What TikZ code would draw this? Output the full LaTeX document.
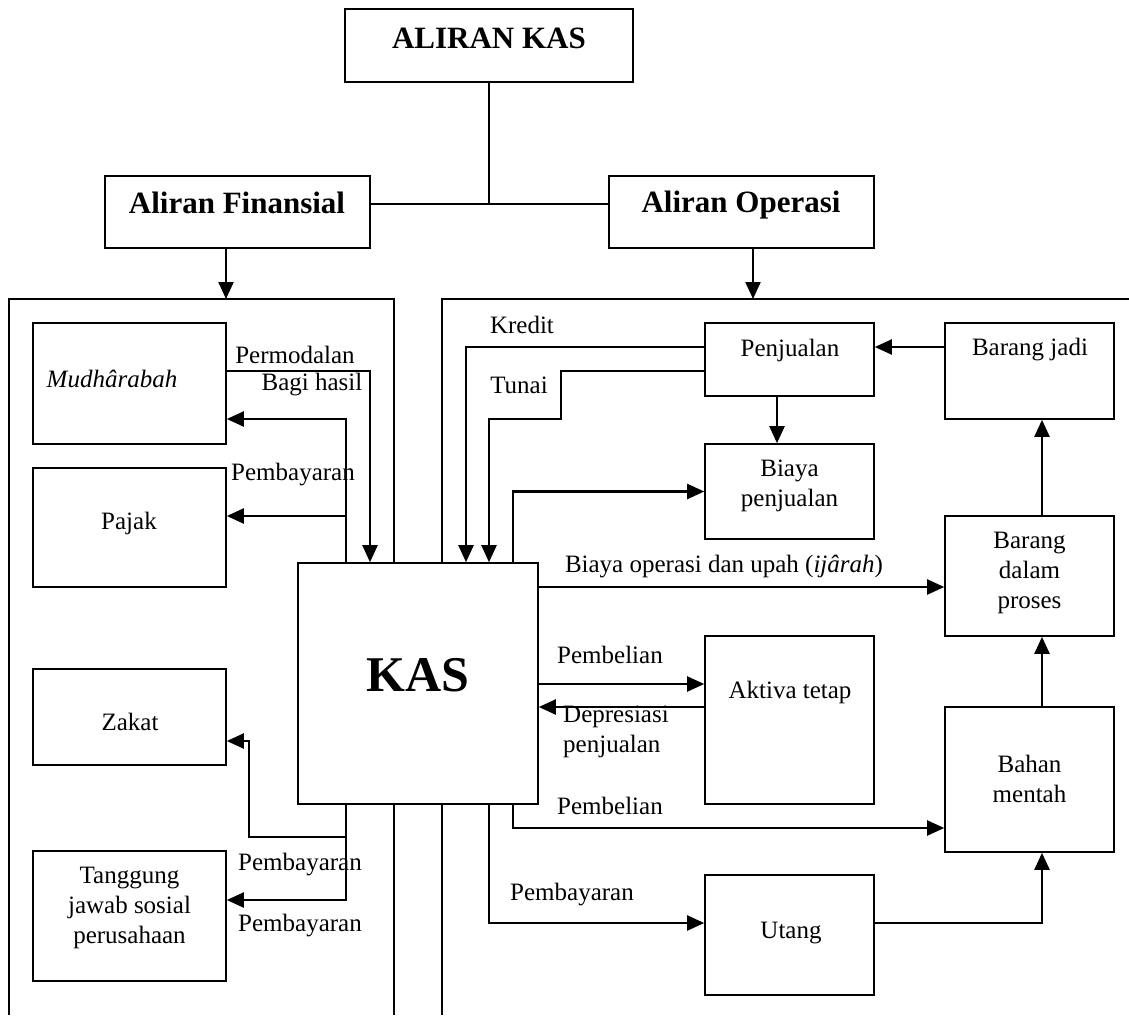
\documentclass[tikz,border=0pt]{standalone}
\usepackage{fontspec}
\setmainfont{Liberation Serif}
\usetikzlibrary{arrows.meta}
\tikzset{
  box/.style={draw, line width=1.6pt, fill=white, inner sep=0pt},
  txt/.style={inner sep=0pt, align=center, font=\fontsize{25}{30}\selectfont},
  ttl/.style={inner sep=0pt, align=center, font=\fontsize{31}{36}\selectfont\bfseries},
  arr/.style={line width=2.2pt, -{Triangle[length=17pt,width=15pt]}},
  ln/.style={line width=1.4pt},
}
\begin{document}
\begin{tikzpicture}[x=1pt,y=-1pt]
\useasboundingbox (0,0) rectangle (1129,1015);
% frames
\draw[ln] (9,1015) -- (9,299) -- (394,299) -- (394,1015);
\draw[ln] (442,1015) -- (442,299) -- (1129,299);
% top boxes
\node[box, minimum width=288pt, minimum height=73pt] (aliran) at (489,45.5) {};
\node[ttl] (aliranT) at (489,38) {ALIRAN KAS};
\node[box, minimum width=265pt, minimum height=72pt] (fin) at (237.5,212) {};
\node[ttl] (finT) at (237,203) {Aliran Finansial};
\node[box, minimum width=265pt, minimum height=72pt] (ops) at (741.5,212) {};
\node[ttl] (opsT) at (741,205) {Aliran Operasi};
\coordinate (hj) at (489,204);
\draw[ln] (aliran.south) -- (hj);
\draw[ln] (fin.east |- hj) -- (ops.west |- hj);
\coordinate (lf) at (226,299);
\coordinate (rf) at (753,299);
\draw[arr] (fin.south -| lf) -- (lf);
\draw[arr] (ops.south -| rf) -- (rf);
% left boxes
\node[box, minimum width=193pt, minimum height=121pt] (mud) at (129.5,383.5) {};
\node[txt, font=\fontsize{25}{30}\selectfont\itshape] (mudT) at (112,379) {Mudhârabah};
\node[box, minimum width=193pt, minimum height=119pt] (pajak) at (129.5,527.5) {};
\node[txt] (pajakT) at (129,523) {Pajak};
\node[box, minimum width=193pt, minimum height=96pt] (zakat) at (129.5,717) {};
\node[txt] (zakatT) at (130,722) {Zakat};
\node[box, minimum width=193pt, minimum height=130pt] (tjs) at (129.5,916) {};
\node[txt] (tjsT) at (129.5,908) {Tanggung\\jawab sosial\\perusahaan};
% KAS
\node[box, minimum width=240pt, minimum height=241pt] (kas) at (418,683.5) {};
\node[inner sep=0pt, font=\fontsize{50}{58}\selectfont\bfseries] (kasT) at (418,675) {KAS};
% right boxes
\node[box, minimum width=169pt, minimum height=73pt] (penj) at (789.5,359.5) {};
\node[txt] (penjT) at (790,350) {Penjualan};
\node[box, minimum width=169pt, minimum height=96pt] (bj) at (1029.5,371) {};
\node[txt] (bjT) at (1030,350) {Barang jadi};
\node[box, minimum width=169pt, minimum height=95pt] (bp) at (789.5,491.5) {};
\node[txt] (bpT) at (789.5,486) {Biaya\\penjualan};
\node[box, minimum width=169pt, minimum height=120pt] (bdp) at (1029.5,576) {};
\node[txt] (bdpT) at (1029.5,573) {Barang\\dalam\\proses};
\node[box, minimum width=169pt, minimum height=168pt] (akt) at (789.5,720) {};
\node[txt] (aktT) at (790,692) {Aktiva tetap};
\node[box, minimum width=169pt, minimum height=145pt] (bm) at (1029.5,779.5) {};
\node[txt] (bmT) at (1029.5,779) {Bahan\\mentah};
\node[box, minimum width=169pt, minimum height=120pt] (utang) at (789.5,935) {};
\node[txt] (utangT) at (791,933) {Utang};
% financial connectors
\draw[arr] (mud.east |- 0,371) -| (kas.north -| 370,0);
\draw[arr] (kas.north -| 346,0) |- (mud.east |- 0,419);
\coordinate (tr1) at (346,516);
\draw[arr] (tr1) -- (pajak.east |- tr1);
\draw[arr] (kas.south -| 346,0) |- (249,837) |- (zakat.east |- 0,741);
\draw[arr] (kas.south -| 346,0) |- (tjs.east |- 0,900);
% operating connectors
\draw[arr] (penj.west |- 0,347) -| (kas.north -| 466,0);
\draw[arr] (penj.west |- 0,371) -| (561,419) -| (kas.north -| 489,0);
\draw[arr] (kas.north -| 513,0) |- (bp.west);
\draw[arr] (penj.south -| 777,0) -- (bp.north -| 777,0);
\draw[arr] (bj.west |- 0,347) -- (penj.east |- 0,347);
\draw[arr] (bdp.north -| 1042,0) -- (bj.south -| 1042,0);
\draw[arr] (bm.north -| 1042,0) -- (bdp.south -| 1042,0);
\draw[arr] (kas.east |- 0,587) -- (bdp.west |- 0,587);
\draw[arr] (kas.east |- 0,684) -- (akt.west |- 0,684);
\draw[arr] (akt.west |- 0,707) -- (kas.east |- 0,707);
\draw[arr] (kas.south -| 513,0) |- (bm.west |- 0,828);
\draw[arr] (kas.south -| 489,0) |- (utang.west |- 0,923);
\draw[arr] (utang.east |- 0,923) -| (bm.south -| 1042,0);
% labels
\node[txt] (l1) at (295,355) {Permodalan};
\node[txt] (l2) at (312,385) {Bagi hasil};
\node[txt] (l3) at (293,475) {Pembayaran};
\node[txt] (l4) at (300,865) {Pembayaran};
\node[txt] (l5) at (300,926) {Pembayaran};
\node[txt] (l6) at (522,325) {Kredit};
\node[txt] (l7) at (519,385) {Tunai};
\node[txt] (l8) at (724,566) {Biaya operasi dan upah (\textit{ijârah})};
\node[txt] (l9) at (610,655) {Pembelian};
\node[txt, align=left, anchor=west] (l10) at (563,732) {Depresiasi\\penjualan};
\node[txt] (l11) at (610,806) {Pembelian};
\node[txt] (l12) at (572,895) {Pembayaran};
\end{tikzpicture}
\end{document}
